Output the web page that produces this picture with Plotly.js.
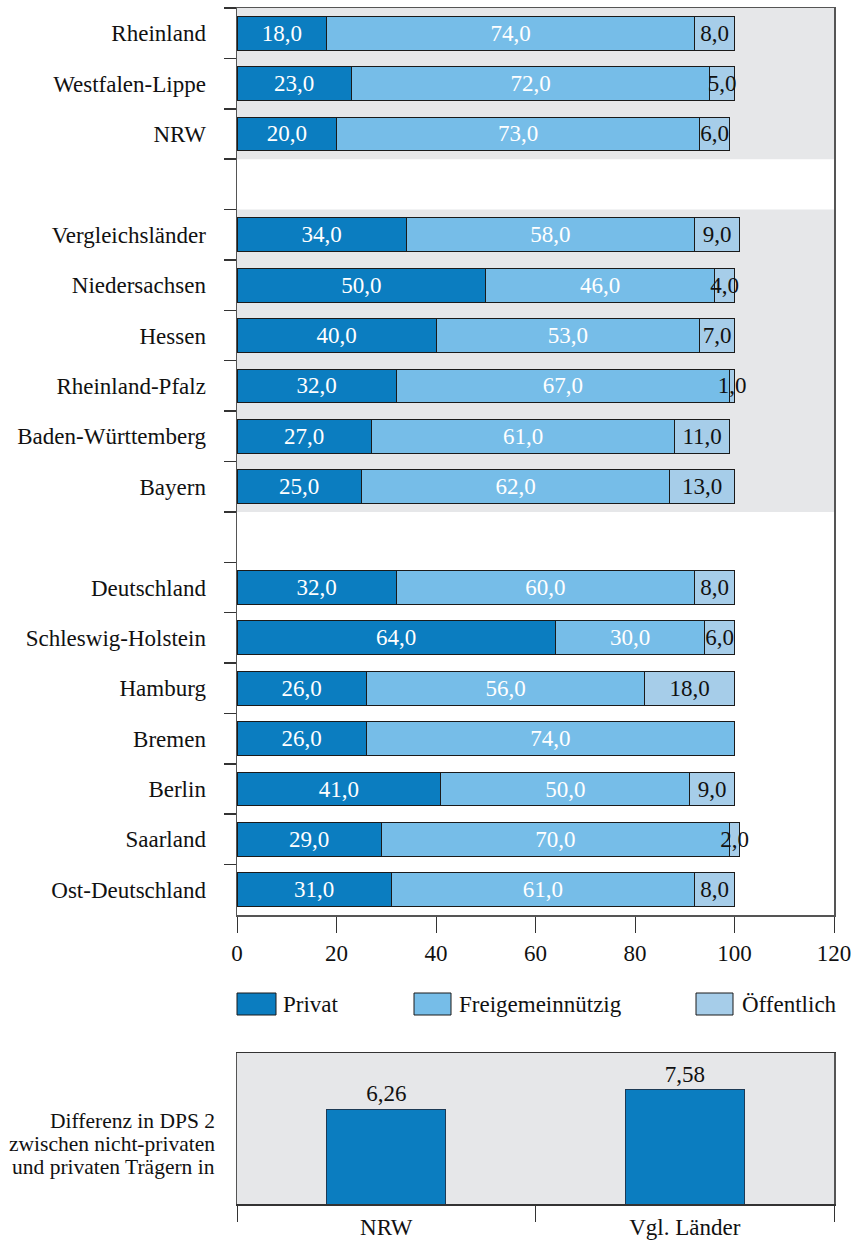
<!DOCTYPE html>
<html>
<head>
<meta charset="utf-8">
<script src="https://cdn.plot.ly/plotly-3.0.1.min.js"></script>
<style>html,body{margin:0;padding:0;background:#fff;}#chart{width:854px;height:1240px;}</style>
</head>
<body>
<div id="chart"></div>
<script>
// ---- Data ----
const categories = ['Rheinland','Westfalen-Lippe','NRW',' ','Vergleichsländer','Niedersachsen','Hessen','Rheinland-Pfalz','Baden-Württemberg','Bayern','  ','Deutschland','Schleswig-Holstein','Hamburg','Bremen','Berlin','Saarland','Ost-Deutschland'];
const privat =           [18,23,20,null,34,50,40,32,27,25,null,32,64,26,26,41,29,31];
const freigemeinnuetzig =[74,72,73,null,58,46,53,67,61,62,null,60,30,56,74,50,70,61];
const oeffentlich =      [8,5,6,null,9,4,7,1,11,13,null,8,6,18,0,9,2,8];
const seriesNames = ['Privat','Freigemeinnützig','Öffentlich'];

const diffCategories = ['NRW','Vgl. Länder'];
const diffValues = [6.26, 7.58];
const diffTitleLines = ['Differenz in DPS 2','zwischen nicht-privaten','und privaten Trägern in'];

// ---- Styles ----
const FONT = '"Liberation Serif", "Times New Roman", serif';
const FS = 23;
const colors = ['#0b7dc0','#76bde8','#a6cde9'];
const textColors = ['#ffffff','#ffffff','#111111'];
const grayBg = '#e6e7e9';
const fmt = v => (v === null || v === 0) ? '' : v.toFixed(1).replace('.', ',');

const seriesValues = [privat, freigemeinnuetzig, oeffentlich];
const traces = seriesValues.map((vals, i) => ({
  type: 'bar',
  orientation: 'h',
  name: seriesNames[i],
  y: categories,
  x: vals,
  xaxis: 'x', yaxis: 'y',
  marker: {color: colors[i], line: {color: '#1a1a1a', width: 1}},
  text: vals.map(fmt),
  textposition: 'inside',
  insidetextanchor: 'middle',
  constraintext: 'none',
  textangle: 0,
  textfont: {family: FONT, size: FS, color: textColors[i]},
  cliponaxis: false,
  hoverinfo: 'x+y+name',
  showlegend: false
}));

traces.push({
  type: 'bar',
  x: diffCategories,
  y: diffValues,
  xaxis: 'x2', yaxis: 'y2',
  marker: {color: colors[0], line: {color: '#1d3a55', width: 1}},
  text: diffValues.map(v => v.toFixed(2).replace('.', ',')),
  textposition: 'outside',
  textfont: {family: FONT, size: FS, color: '#111'},
  cliponaxis: false,
  width: 0.4,
  showlegend: false
});

const xDom = [237/854, 834/854];
const topDom = [1 - 915/1240, 1 - 8/1240];
const botDom = [1 - 1204/1240, 1 - 1053/1240];

const shapes = [
  {type:'rect', xref:'x domain', yref:'y', x0:0, x1:1, y0:-0.5, y1:2.5, fillcolor:grayBg, line:{width:0}, layer:'below'},
  {type:'rect', xref:'x domain', yref:'y', x0:0, x1:1, y0:3.5, y1:9.5, fillcolor:grayBg, line:{width:0}, layer:'below'},
  {type:'rect', xref:'x2 domain', yref:'y2 domain', x0:0, x1:1, y0:0, y1:1, fillcolor:grayBg, line:{width:0}, layer:'below'}
];

// custom legend boxes
const legBoxes = [[237,276],[414,451],[696,733]];
const legTextX = [281,457,740];
const annotations = [];
legBoxes.forEach((b, i) => {
  shapes.push({type:'rect', xref:'paper', yref:'paper', x0:b[0]/854, x1:b[1]/854, y0:1-1015/1240, y1:1-993/1240,
    fillcolor: colors[i], line:{color:'#1a1a1a', width:1}});
  annotations.push({xref:'paper', yref:'paper', x:legTextX[i]/854, y:1-1004/1240, xanchor:'left', yanchor:'middle',
    text: seriesNames[i], showarrow:false, font:{family:FONT, size:FS, color:'#111'}});
});
const titleY = [1121, 1144, 1167];
diffTitleLines.forEach((t, i) => {
  annotations.push({xref:'paper', yref:'paper', x:217/854, y:1-titleY[i]/1240, xanchor:'right', yanchor:'middle',
    text:t, showarrow:false, font:{family:FONT, size:21.5, color:'#111'}});
});

const layout = {
  width: 854, height: 1240,
  margin: {l:0, r:0, t:0, b:0},
  paper_bgcolor: '#ffffff',
  plot_bgcolor: 'rgba(0,0,0,0)',
  barmode: 'stack',
  bargap: 0.33,
  showlegend: false,
  font: {family: FONT, size: FS, color: '#111'},
  xaxis: {
    domain: xDom, anchor: 'y', range: [0, 120], dtick: 20, tick0: 0,
    showgrid: false, zeroline: false,
    showline: true, linecolor: '#555', linewidth: 1.5, mirror: true,
    ticks: 'outside', ticklen: 16, tickcolor: '#333', tickwidth: 1,
    ticklabelstandoff: 1,
    tickfont: {family: FONT, size: FS, color: '#111'}
  },
  yaxis: {
    domain: topDom, anchor: 'x', type: 'category',
    categoryorder: 'array', categoryarray: categories,
    range: [17.5, -0.5],
    showgrid: false, zeroline: false,
    showline: true, linecolor: '#555', linewidth: 1.5, mirror: true,
    ticks: 'outside', tickson: 'boundaries', ticklen: 12, tickcolor: '#333', tickwidth: 1.5,
    ticklabelstandoff: 25,
    tickfont: {family: FONT, size: FS, color: '#111'}
  },
  xaxis2: {
    domain: xDom, anchor: 'y2', type: 'category',
    showgrid: false, zeroline: false,
    showline: true, linecolor: '#333', linewidth: 1.5, mirror: true,
    ticks: 'outside', tickson: 'boundaries', ticklen: 16, tickcolor: '#333', tickwidth: 1,
    ticklabelstandoff: 2,
    tickfont: {family: FONT, size: FS, color: '#111'}
  },
  yaxis2: {
    domain: botDom, anchor: 'x2', range: [0, 10],
    showgrid: false, zeroline: false, showticklabels: false, ticks: '',
    showline: true, linecolor: '#555', linewidth: 1.5, mirror: true
  },
  shapes: shapes,
  annotations: annotations
};

Plotly.newPlot('chart', traces, layout, {staticPlot: true, displayModeBar: false});
</script>
</body>
</html>
